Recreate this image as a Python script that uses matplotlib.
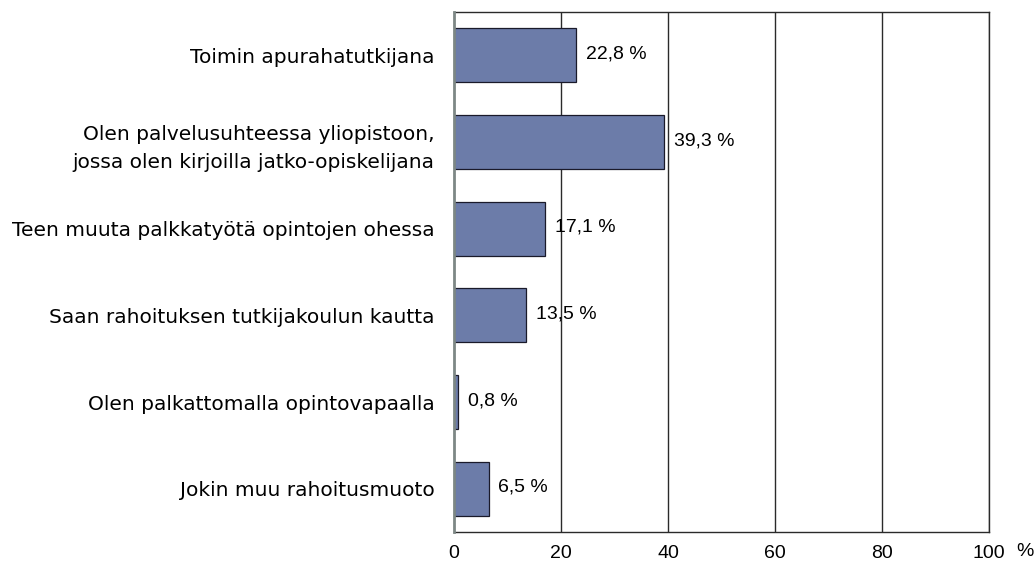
import matplotlib
matplotlib.use("Agg")
import matplotlib.pyplot as plt

categories = [
    "Toimin apurahatutkijana",
    "Olen palvelusuhteessa yliopistoon,\njossa olen kirjoilla jatko-opiskelijana",
    "Teen muuta palkkatyötä opintojen ohessa",
    "Saan rahoituksen tutkijakoulun kautta",
    "Olen palkattomalla opintovapaalla",
    "Jokin muu rahoitusmuoto",
]
values = [22.8, 39.3, 17.1, 13.5, 0.8, 6.5]
xticks = [0, 20, 40, 60, 80, 100]

plt.rcParams['font.family'] = ['Liberation Sans', 'DejaVu Sans']

fig = plt.figure(figsize=(10.35, 5.62), dpi=100)
ax = fig.add_axes([454/1035, 30/562, (989-454)/1035, (532-12)/562])

ypos = list(range(len(categories)))
ax.barh(ypos, values, height=0.62, color="#6C7CA9", edgecolor="#1a1a2a", linewidth=0.9, zorder=3)
ax.set_ylim(len(categories) - 0.5, -0.5)
ax.set_xlim(0, 100)

for x in xticks[1:]:
    ax.axvline(x, color="#2a2a2a", linewidth=1.0, zorder=1)

ax.set_yticks(ypos)
ax.set_yticklabels(categories, fontsize=14.5, family=['DejaVu Sans'])
ax.set_xticks(xticks)
ax.set_xticklabels([str(t) for t in xticks], fontsize=14)
ax.tick_params(axis='y', length=0, pad=14)
ax.tick_params(axis='x', length=0, pad=9)
for lbl in ax.get_yticklabels():
    lbl.set_horizontalalignment('right')
    lbl.set_multialignment('right')
    lbl.set_linespacing(1.6)

for s in ['top', 'right', 'bottom']:
    ax.spines[s].set_color("#2a2a2a")
    ax.spines[s].set_linewidth(1.0)
ax.spines['left'].set_color("#7d8785")
ax.spines['left'].set_linewidth(2.0)
ax.spines['left'].set_zorder(4)

for y, v in zip(ypos, values):
    ax.annotate(f"{v:.1f}".replace('.', ',') + " %", xy=(v, y), xytext=(7, 1),
                textcoords='offset points', va='center', ha='left', fontsize=14, zorder=5)

fig.text(1025/1035, 1 - 552/562, "%", ha='center', va='center', fontsize=14)

fig.savefig("out.png", dpi=100)
